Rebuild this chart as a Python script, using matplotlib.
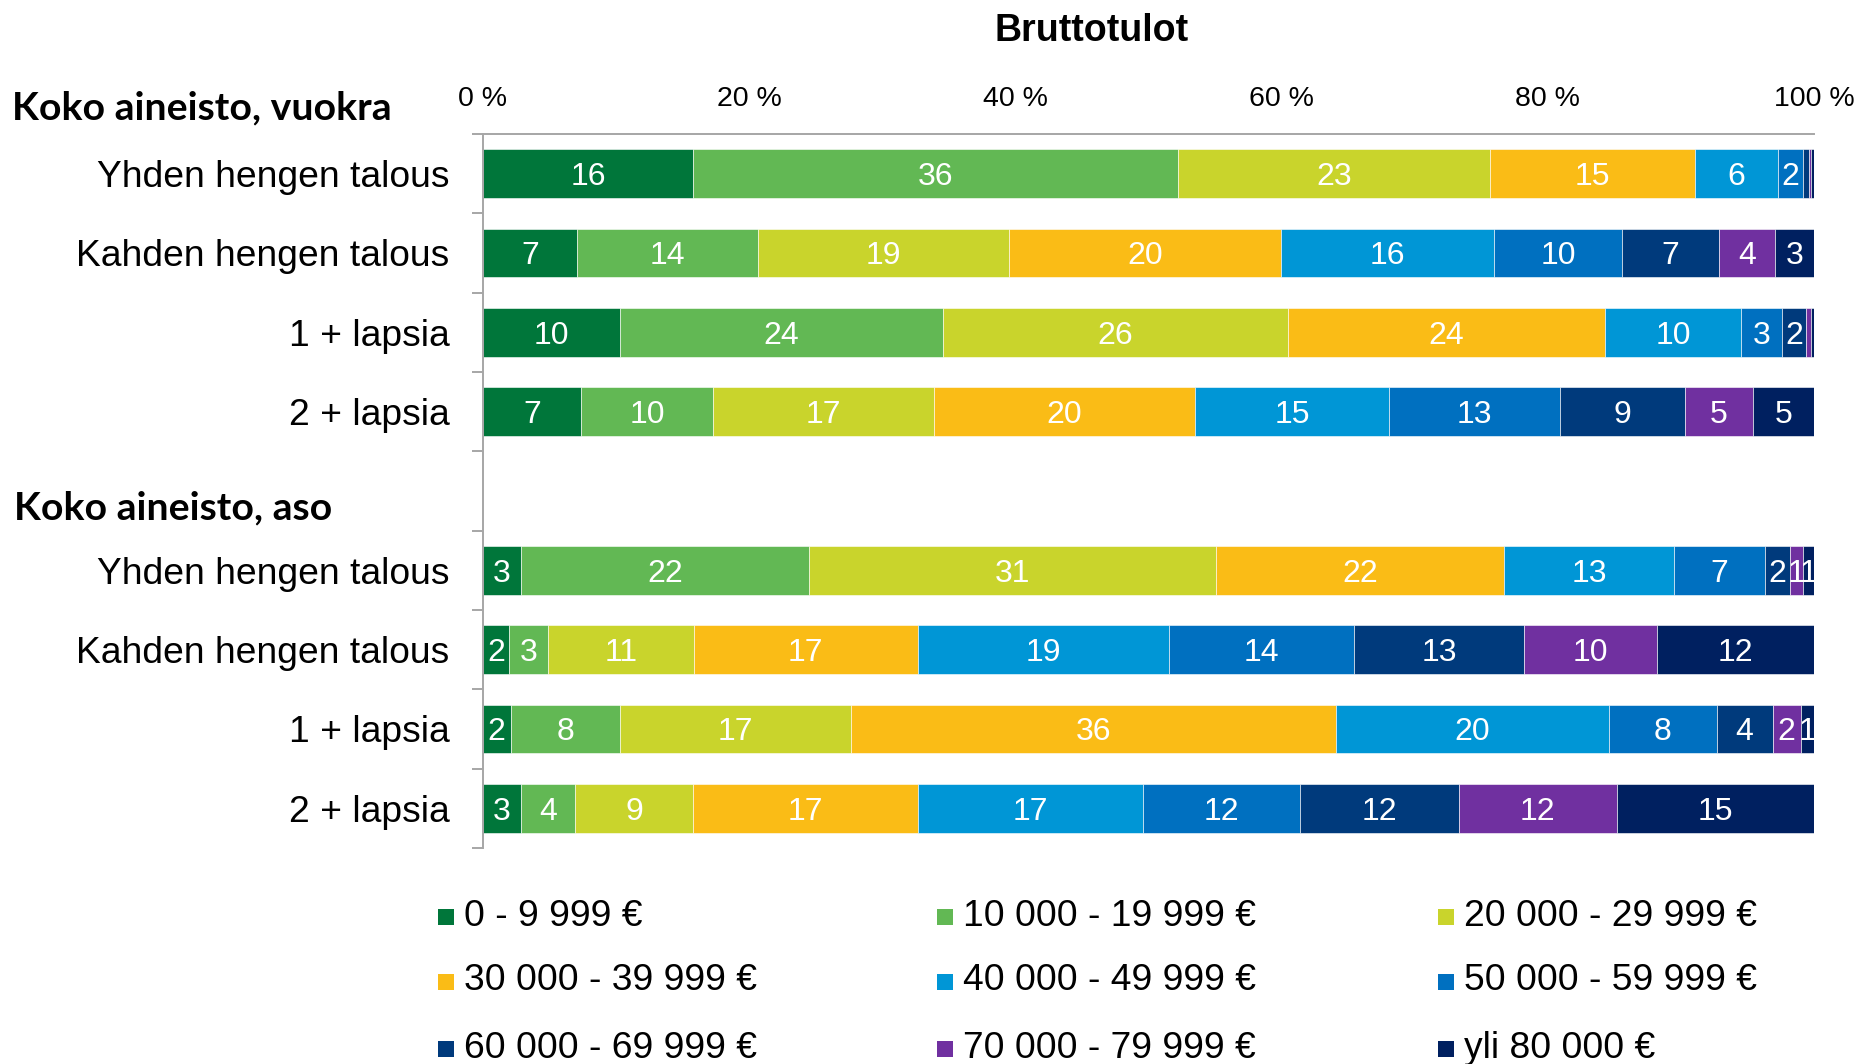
import numpy as np
import matplotlib
matplotlib.use("Agg")
import matplotlib.pyplot as plt
from matplotlib.patches import Rectangle

plt.rcParams['font.family'] = ['Liberation Sans', 'DejaVu Sans']

title = "Bruttotulot"
group_labels = ["Koko aineisto, vuokra", "Koko aineisto, aso"]
categories = ["Yhden hengen talous", "Kahden hengen talous", "1 + lapsia", "2 + lapsia", "",
              "Yhden hengen talous", "Kahden hengen talous", "1 + lapsia", "2 + lapsia"]
series_names = ["0 - 9 999 €", "10 000 - 19 999 €", "20 000 - 29 999 €",
                "30 000 - 39 999 €", "40 000 - 49 999 €", "50 000 - 59 999 €",
                "60 000 - 69 999 €", "70 000 - 79 999 €", "yli 80 000 €"]
colors = ["#00763A", "#62B854", "#C9D42C", "#FABC16", "#0096D6",
          "#0070C0", "#003A7C", "#7030A0", "#002060"]

vuokra_yhden = [15.8, 36.4, 23.4, 15.4, 6.2, 1.9, 0.4, 0.2, 0.2]
vuokra_kahden = [7.1, 13.6, 18.8, 20.4, 16.0, 9.6, 7.3, 4.2, 2.9]
vuokra_1lapsia = [10.3, 24.3, 25.9, 23.8, 10.2, 3.1, 1.8, 0.4, 0.2]
vuokra_2lapsia = [7.4, 9.9, 16.6, 19.6, 14.6, 12.8, 9.4, 5.1, 4.6]
aso_yhden = [2.9, 21.6, 30.6, 21.6, 12.8, 6.8, 1.9, 1.0, 0.8]
aso_kahden = [2.0, 2.9, 11.0, 16.8, 18.9, 13.9, 12.8, 10.0, 11.8]
aso_1lapsia = [2.1, 8.2, 17.3, 36.4, 20.4, 8.1, 4.2, 2.1, 1.0]
aso_2lapsia = [2.9, 4.0, 8.9, 16.8, 16.9, 11.8, 11.9, 11.8, 14.8]

rows = [vuokra_yhden, vuokra_kahden, vuokra_1lapsia, vuokra_2lapsia, None,
        aso_yhden, aso_kahden, aso_1lapsia, aso_2lapsia]

xticks = [0, 20, 40, 60, 80, 100]

fig = plt.figure(figsize=(18.59, 10.64), dpi=100)
ax = fig.add_axes([0.2596, 0.2030, 0.9758 - 0.2596, 0.8741 - 0.2030])

for i, r in enumerate(rows):
    if r is None:
        continue
    vals = np.array(r, dtype=float)
    pct = vals / vals.sum() * 100
    left = 0.0
    for j, (v, p) in enumerate(zip(vals, pct)):
        ax.barh(i, p, left=left, height=0.61, color=colors[j],
                edgecolor='white', linewidth=0.4)
        lab = int(round(v))
        if lab >= 1:
            ax.text(left + p / 2, i, str(lab), ha='center', va='center_baseline',
                    color='white', fontsize=23)
        left += p

ax.set_xlim(0, 100)
ax.set_ylim(len(categories) - 0.5, -0.5)
ax.xaxis.tick_top()
ax.set_xticks(xticks)
ax.set_xticklabels([f"{t} %" for t in xticks], fontsize=20.5)
ax.tick_params(axis='x', length=0, pad=16)

ax.set_yticks(range(len(categories)))
ax.set_yticklabels(categories, fontsize=26.8)
ax.tick_params(axis='y', which='major', length=0, pad=24)
ax.set_yticks(np.arange(-0.5, len(categories) + 0.5, 1.0), minor=True)
ax.tick_params(axis='y', which='minor', length=8, width=1.4, color='#A6A6A6', direction='out')

for s in ['right', 'bottom']:
    ax.spines[s].set_visible(False)
for s in ['left', 'top']:
    ax.spines[s].set_color('#A6A6A6')
    ax.spines[s].set_linewidth(1.4)

fig.text(1092 / 1859, 1 - 31 / 1064, title, ha='center', va='center',
         fontsize=27, fontweight='bold')
fig.text(12 / 1859, 1 - 108 / 1064, group_labels[0], ha='left', va='center',
         fontsize=28.3, fontweight='bold', family=['Lato', 'DejaVu Sans'])
fig.text(14 / 1859, 1 - 508 / 1064, group_labels[1], ha='left', va='center',
         fontsize=28.3, fontweight='bold', family=['Lato', 'DejaVu Sans'])

# legend laid out as in the reference (3 columns, row-wise order)
col_x = [438, 937, 1438]
row_y = [916, 981, 1048]
sq = 16
for k, name in enumerate(series_names):
    r, c = divmod(k, 3)
    x = col_x[c]
    y = row_y[r]
    fig.add_artist(Rectangle((x / 1859, (1064 - y - sq / 2 - 1) / 1064), sq / 1859, sq / 1064,
                             transform=fig.transFigure, facecolor=colors[k], edgecolor='none'))
    fig.text((x + sq + 10) / 1859, 1 - y / 1064, name, ha='left', va='center', fontsize=26.8)

fig.savefig("out.png", dpi=100)
